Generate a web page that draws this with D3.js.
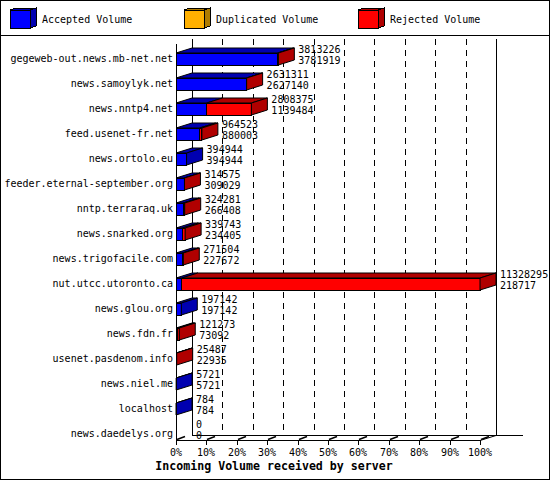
<!DOCTYPE html>
<html>
<head>
<meta charset="utf-8">
<script src="https://cdn.jsdelivr.net/npm/d3@7"></script>
<style>
body { margin: 0; background: #fff; }
text { font-family: "DejaVu Sans Mono", monospace; font-size: 10px; fill: #000; }
</style>
</head>
<body>
<div id="chart"></div>
<script>
// servers, top to bottom
var hosts = ["gegeweb-out.news.mb-net.net", "news.samoylyk.net", "news.nntp4.net",
    "feed.usenet-fr.net", "news.ortolo.eu", "feeder.eternal-september.org",
    "nntp.terraraq.uk", "news.snarked.org", "news.trigofacile.com",
    "nut.utcc.utoronto.ca", "news.glou.org", "news.fdn.fr", "usenet.pasdenom.info",
    "news.niel.me", "localhost", "news.daedelys.org"];

// total volume offered (upper label)
var offered = [3813226, 2631311, 2808375, 964523, 394944, 314575, 324281, 339743,
    271504, 11328295, 197142, 121273, 25487, 5721, 784, 0];
// accepted volume (lower label)
var accepted = [3781919, 2627140, 1139484, 880003, 394944, 309029, 266408, 234405,
    227672, 218717, 197142, 73092, 22935, 5721, 784, 0];
var duplicated = [0, 0, 0, 0, 0, 0, 0, 0, 0, 0, 0, 0, 0, 0, 0, 0];
var rejected = [31307, 4171, 1668891, 84520, 0, 5546, 57873, 105338,
    43832, 11109578, 0, 48181, 2552, 0, 0, 0];

var tickValues = [0, 10, 20, 30, 40, 50, 60, 70, 80, 90, 100];
var seriesNames = ["Accepted Volume", "Duplicated Volume", "Rejected Volume"];
var seriesColors = ["#0000ff", "#ffb000", "#ff0000"];
var seriesDark = ["#0000b0", "#b07c00", "#b00000"];

var svgWidth = 550;
var svgHeight = 480;
var depthX = 16; // 3d offset of the back plane
var depthY = 5;
var barH = 12;

var svg = d3.select("#chart")
    .append("svg")
    .attr("width", svgWidth)
    .attr("height", svgHeight)
    .attr("shape-rendering", "crispEdges");

// outer frame + legend separator
svg.append("rect")
    .attr("x", 0.5).attr("y", 0.5)
    .attr("width", svgWidth - 1).attr("height", svgHeight - 1)
    .attr("fill", "white").attr("stroke", "black");
svg.append("line")
    .attr("x1", 0).attr("x2", svgWidth).attr("y1", 35.5).attr("y2", 35.5)
    .attr("stroke", "black");

// legend cubes
var legend = svg.selectAll("g.legend")
    .data(seriesNames)
    .enter()
    .append("g")
    .attr("class", "legend")
    .attr("transform", function(d, i) { return "translate(" + [10, 184, 358][i] + ",0)"; });

legend.append("polygon")
    .attr("points", "20,10 26,8 26,26 20,28")
    .attr("fill", function(d, i) { return seriesDark[i]; })
    .attr("stroke", "black");
legend.append("polygon")
    .attr("points", "0,10 6,8 26,8 20,10")
    .attr("fill", function(d, i) { return seriesDark[i]; })
    .attr("stroke", "black");
legend.append("rect")
    .attr("x", 0.5).attr("y", 10.5).attr("width", 20).attr("height", 18)
    .attr("fill", function(d, i) { return seriesColors[i]; })
    .attr("stroke", "black");
legend.append("text")
    .attr("x", 32).attr("y", 23)
    .text(function(d) { return d; });

// scales
var maxTotal = d3.max(offered);
var x = d3.scaleLinear().domain([0, maxTotal]).range([176, 480]);
var pct = d3.scaleLinear().domain([0, 100]).range([176, 480]);
var y = d3.scalePoint().domain(hosts).range([53, 428]);

var floorY = 440;
var topY = 44;

// back plane grid
svg.selectAll("line.grid")
    .data(tickValues.slice(1, -1))
    .enter()
    .append("line")
    .attr("class", "grid")
    .attr("x1", function(d) { return Math.round(pct(d)) + depthX + 0.5; })
    .attr("x2", function(d) { return Math.round(pct(d)) + depthX + 0.5; })
    .attr("y1", topY - depthY).attr("y2", floorY - depthY)
    .attr("stroke", "black")
    .attr("stroke-dasharray", "6,5");

var frame = svg.append("g").attr("stroke", "black").attr("fill", "none");
frame.append("line") // back left
    .attr("x1", pct(0) + depthX + 0.5).attr("x2", pct(0) + depthX + 0.5)
    .attr("y1", topY - depthY).attr("y2", floorY - depthY);
frame.append("line") // back right
    .attr("x1", pct(100) + depthX + 0.5).attr("x2", pct(100) + depthX + 0.5)
    .attr("y1", topY - depthY).attr("y2", floorY - depthY);
frame.append("line") // back floor
    .attr("x1", pct(0) + depthX).attr("x2", 523)
    .attr("y1", floorY - depthY + 0.5).attr("y2", floorY - depthY + 0.5);

// floor grid pieces + ticks
var ticks = svg.selectAll("g.tick")
    .data(tickValues)
    .enter()
    .append("g")
    .attr("class", "tick")
    .attr("transform", function(d) { return "translate(" + Math.round(pct(d)) + "," + floorY + ")"; });

ticks.append("line")
    .attr("x1", 0.5).attr("x2", 0.5).attr("y1", 0).attr("y2", 5)
    .attr("stroke", "black");
ticks.append("line")
    .attr("x1", 1).attr("y1", -0.5).attr("x2", 9).attr("y2", -3.5)
    .attr("stroke", "black").attr("stroke-width", 1.5)
    .attr("shape-rendering", "auto");
ticks.append("text")
    .attr("y", 16)
    .attr("text-anchor", "middle")
    .text(function(d) { return d + "%"; });

// bars
var bars = svg.selectAll("g.bar")
    .data(hosts)
    .enter()
    .append("g")
    .attr("class", "bar")
    .attr("transform", function(d) { return "translate(0," + y(d) + ")"; });

bars.each(function(d, i) {
    var g = d3.select(this);
    var segs = [];
    var cum = 0;
    [accepted, duplicated, rejected].forEach(function(arr, s) {
        var v = arr[i];
        if (v > 0) segs.push({ x0: x(cum), x1: x(cum + v), s: s });
        cum += v;
    });
    if (!segs.length) return;

    segs.forEach(function(sg) {
        g.append("polygon")
            .attr("points", [[sg.x0, 0], [sg.x0 + depthX, -depthY], [sg.x1 + depthX, -depthY], [sg.x1, 0]].join(" "))
            .attr("fill", seriesDark[sg.s])
            .attr("stroke", "black")
            .attr("shape-rendering", "auto");
        g.append("rect")
            .attr("x", sg.x0).attr("y", 0)
            .attr("width", sg.x1 - sg.x0).attr("height", barH)
            .attr("fill", seriesColors[sg.s])
            .attr("stroke", "black");
    });

    var last = segs[segs.length - 1];
    g.append("polygon")
        .attr("points", [[last.x1, 0], [last.x1 + depthX, -depthY], [last.x1 + depthX, barH - depthY], [last.x1, barH]].join(" "))
        .attr("fill", seriesDark[last.s])
        .attr("stroke", "black")
        .attr("shape-rendering", "auto");
});

// value labels: offered above, accepted below
bars.append("text")
    .attr("x", function(d, i) { return x(offered[i]) + depthX + 4; })
    .attr("y", 0)
    .text(function(d, i) { return offered[i]; });
bars.append("text")
    .attr("x", function(d, i) { return x(offered[i]) + depthX + 4; })
    .attr("y", 11)
    .text(function(d, i) { return accepted[i]; });

// category labels
bars.append("text")
    .attr("x", 173)
    .attr("y", 9)
    .attr("text-anchor", "end")
    .text(function(d) { return d; });

// front axes drawn last
frame = svg.append("g").attr("stroke", "black");
frame.append("line")
    .attr("x1", pct(0) + 0.5).attr("x2", pct(0) + 0.5)
    .attr("y1", topY).attr("y2", floorY);
frame.append("line")
    .attr("x1", pct(0)).attr("x2", pct(100) + 1)
    .attr("y1", floorY + 0.5).attr("y2", floorY + 0.5);
frame.append("line")
    .attr("x1", pct(100)).attr("y1", floorY + 0.5)
    .attr("x2", pct(100) + depthX).attr("y2", floorY - depthY + 0.5)
    .attr("shape-rendering", "auto");

// axis title
svg.append("text")
    .attr("x", 274)
    .attr("y", 470)
    .attr("text-anchor", "middle")
    .style("font-weight", "bold")
    .style("font-size", "11.6px")
    .text("Incoming Volume received by server");
</script>
</body>
</html>
